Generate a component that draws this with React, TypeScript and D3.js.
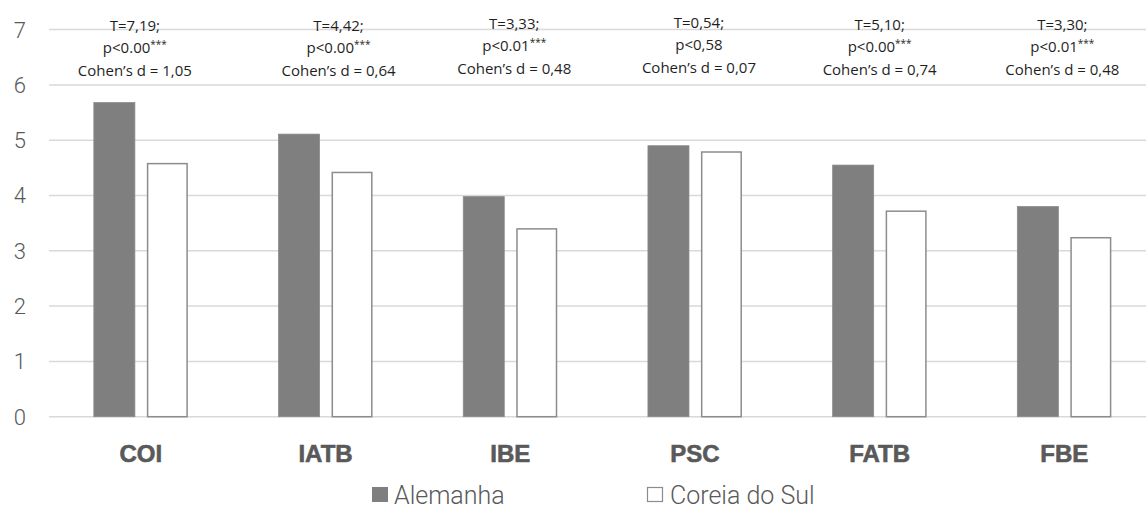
import React from "react";
import * as d3 from "d3";

const categories = ["COI", "IATB", "IBE", "PSC", "FATB", "FBE"];
const seriesNames = ["Alemanha", "Coreia do Sul"];
const alemanha = [5.68, 5.11, 3.98, 4.9, 4.55, 3.8];
const coreiaDoSul = [4.59, 4.43, 3.41, 4.8, 3.73, 3.25];
const yTicks = [0, 1, 2, 3, 4, 5, 6, 7];
const tStats = ["T=7,19;", "T=4,42;", "T=3,33;", "T=0,54;", "T=5,10;", "T=3,30;"];
const pValues = ["p<0.00", "p<0.00", "p<0.01", "p<0,58", "p<0.00", "p<0.01"];
const pStars = ["***", "***", "***", "", "***", "***"];
const cohensD = [
  "Cohen’s d = 1,05",
  "Cohen’s d = 0,64",
  "Cohen’s d = 0,48",
  "Cohen’s d = 0,07",
  "Cohen’s d = 0,74",
  "Cohen’s d = 0,48",
];
// small manual offsets of annotation text boxes (layout only)
const annDx = [-6, 13, 4, 4, 0, -2];
const annDy = [0, 0, -2, -3, -1, -1];

const W = 1146;
const H = 510;

export default function App() {
  const y = d3.scaleLinear().domain([0, 7]).range([416.7, 29.6]);
  const x0 = d3
    .scaleBand<string>()
    .domain(categories)
    .range([48.5, 48.5 + 6 * 184.7])
    .padding(0);
  const x1 = d3
    .scaleBand<string>()
    .domain(seriesNames)
    .range([-47, 47])
    .paddingInner(0.226)
    .paddingOuter(0);
  const values = [alemanha, coreiaDoSul];
  const textColor = "#595959";
  const font = "Roboto, 'Liberation Sans', sans-serif";
  const annFont = "'Open Sans', Roboto, sans-serif";

  return (
    <div style={{ position: "absolute", left: 0, top: 0 }}>
      <svg width={W} height={H} style={{ display: "block", background: "#fff" }}>
        {/* gridlines */}
        {yTicks.map((t) => (
          <line
            key={"g" + t}
            x1={49}
            x2={W}
            y1={y(t)}
            y2={y(t)}
            stroke="#d9d9d9"
            strokeWidth={1.5}
          />
        ))}
        {/* y tick labels */}
        {yTicks.map((t) => (
          <text
            key={"yt" + t}
            x={26}
            y={y(t)}
            dy="0.36em"
            textAnchor="end"
            fontFamily={font}
            fontWeight={300}
            fontSize={22}
            fill={textColor}
          >
            {t}
          </text>
        ))}
        {/* bars */}
        {categories.map((c, i) => {
          const cx = (x0(c) as number) + x0.bandwidth() / 2;
          return (
            <g key={"bars" + c}>
              {seriesNames.map((s, si) => {
                const v = values[si][i];
                const bx = cx + (x1(s) as number);
                return si === 0 ? (
                  <rect
                    key={s}
                    x={bx}
                    y={y(v)}
                    width={x1.bandwidth()}
                    height={y(0) - y(v)}
                    fill="#7f7f7f"
                    stroke="#8a8a8a"
                    strokeWidth={0.8}
                  />
                ) : (
                  <rect
                    key={s}
                    x={bx + 0.75}
                    y={y(v) + 0.75}
                    width={x1.bandwidth() - 1.5}
                    height={y(0) - y(v) - 0.75}
                    fill="#ffffff"
                    stroke="#8c8c8c"
                    strokeWidth={1.5}
                  />
                );
              })}
            </g>
          );
        })}
        {/* category labels */}
        {categories.map((c) => (
          <text
            key={"cl" + c}
            x={(x0(c) as number) + x0.bandwidth() / 2}
            y={462}
            textAnchor="middle"
            fontFamily="'Liberation Sans', Arial, sans-serif"
            fontWeight={700}
            fontSize={24}
            fill={textColor}
            stroke={textColor}
            strokeWidth={0.6}
          >
            {c}
          </text>
        ))}
        {/* annotations */}
        {categories.map((c, i) => {
          const cx = (x0(c) as number) + x0.bandwidth() / 2 + annDx[i];
          const dy = annDy[i];
          return (
            <g key={"ann" + c} fontFamily={annFont} fontSize={15} fill="#1f1f1f" textAnchor="middle">
              <text x={cx} y={31 + dy}>
                {tStats[i]}
              </text>
              <text x={cx} y={53 + dy}>
                <tspan>{pValues[i]}</tspan>
                {pStars[i] && (
                  <tspan fontSize={10} dy={-5}>
                    {pStars[i]}
                  </tspan>
                )}
              </text>
              <text x={cx} y={76 + dy}>
                {cohensD[i]}
              </text>
            </g>
          );
        })}
        {/* legend */}
        <g>
          <rect x={372} y={487} width={16} height={15} fill="#7f7f7f" />
          <text
            x={394}
            y={504}
            fontFamily={font}
            fontWeight={300}
            fontSize={25}
            fill={textColor}
          >
            {seriesNames[0]}
          </text>
          <rect
            x={647.5}
            y={487.5}
            width={15}
            height={14}
            fill="#fff"
            stroke="#8c8c8c"
            strokeWidth={1.2}
          />
          <text
            x={670}
            y={504}
            fontFamily={font}
            fontWeight={300}
            fontSize={25}
            fill={textColor}
          >
            {seriesNames[1]}
          </text>
        </g>
      </svg>
    </div>
  );
}
